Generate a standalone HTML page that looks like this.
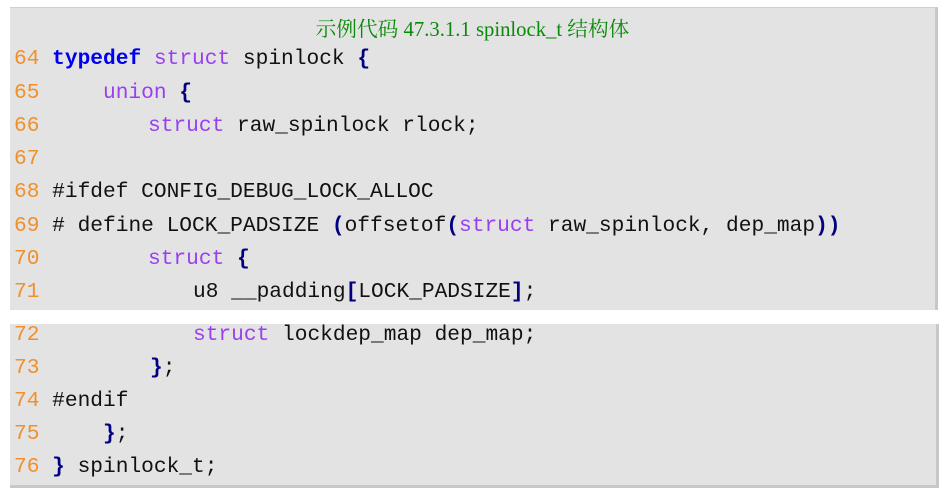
<!DOCTYPE html>
<html><head><meta charset="utf-8"><style>
body{margin:0;width:945px;height:493px;background:#fff;position:relative;overflow:hidden}
.box{position:absolute;background:#e3e3e3}
.t{position:absolute;left:0;width:945px;text-align:center;top:12px;font:20.7px "Liberation Serif","Noto Serif CJK SC",serif;color:#0a8a0a}
.l{position:absolute;left:14px;font:21.2px/33px "Liberation Mono",monospace;white-space:pre;color:#111;height:33px;width:920px}
.c{position:absolute;top:0}
.n{color:#f0902a}
.k{color:#0000ee;font-weight:bold}
.p{color:#9a3ff0}
.b{color:#000080;font-weight:bold}
</style></head><body>
<div class="box" style="left:10px;top:7px;width:925px;height:302px;border-top:1px solid #d0d0d0;border-right:3px solid #c8c8c8"></div>
<div class="box" style="left:10px;top:324px;width:926px;height:161px;border-right:3px solid #c8c8c8;border-bottom:3px solid #c8c8c8"></div>
<div class="t">示例代码 47.3.1.1 spinlock_t 结构体</div>
<div class="l" style="top:43px"><span class="n">64</span> <span class="k">typedef</span> <span class="p">struct</span> spinlock <span class="b">{</span></div>
<div class="l" style="top:77px"><span class="n">65</span><span class="c" style="left:89px"><span class="p">union</span> <span class="b">{</span></span></div>
<div class="l" style="top:110px"><span class="n">66</span><span class="c" style="left:134px"><span class="p">struct</span> raw_spinlock rlock;</span></div>
<div class="l" style="top:143px"><span class="n">67</span></div>
<div class="l" style="top:176px"><span class="n">68</span> #ifdef CONFIG_DEBUG_LOCK_ALLOC</div>
<div class="l" style="top:210px"><span class="n">69</span> # define LOCK_PADSIZE <span class="b">(</span>offsetof<span class="b">(</span><span class="p">struct</span> raw_spinlock, dep_map<span class="b">))</span></div>
<div class="l" style="top:243px"><span class="n">70</span><span class="c" style="left:134px"><span class="p">struct</span> <span class="b">{</span></span></div>
<div class="l" style="top:276px"><span class="n">71</span><span class="c" style="left:179px">u8 __padding<span class="b">[</span>LOCK_PADSIZE<span class="b">]</span>;</span></div>
<div class="l" style="top:319px"><span class="n">72</span><span class="c" style="left:179px"><span class="p">struct</span> lockdep_map dep_map;</span></div>
<div class="l" style="top:352px"><span class="n">73</span><span class="c" style="left:136px"><span class="b">}</span>;</span></div>
<div class="l" style="top:385px"><span class="n">74</span> #endif</div>
<div class="l" style="top:418px"><span class="n">75</span><span class="c" style="left:89px"><span class="b">}</span>;</span></div>
<div class="l" style="top:451px"><span class="n">76</span> <span class="b">}</span> spinlock_t;</div>
</body></html>
